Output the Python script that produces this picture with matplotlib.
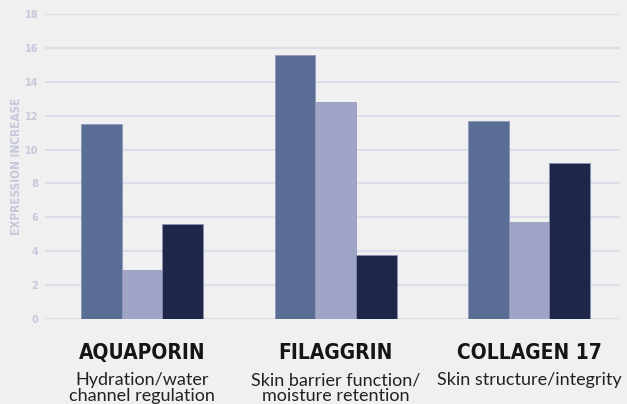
import matplotlib.pyplot as plt
import numpy as np

# Gene markers and the three bars drawn for each one
genes = ["AQUAPORIN", "FILAGGRIN", "COLLAGEN 17"]
roles = ["Hydration/water\nchannel regulation",
         "Skin barrier function/\nmoisture retention",
         "Skin structure/integrity"]
series_a = [11.5, 15.6, 11.7]
series_b = [2.9, 12.8, 5.7]
series_c = [5.6, 3.8, 9.2]
yticks = [0, 2, 4, 6, 8, 10, 12, 14, 16, 18]

colors = ["#5a6d94", "#a0a4c6", "#1e2748"]
bg = "#f0f0f0"

fig = plt.figure(figsize=(6.27, 4.04), dpi=100, facecolor=bg)
ax = fig.add_axes([0.072, 0.2104, 0.917, 0.7549], facecolor=bg)

x = np.arange(len(genes))
width = 0.21
for i, (vals, col) in enumerate(zip([series_a, series_b, series_c], colors)):
    ax.bar(x + (i - 1) * width, vals, width=width, color=col,
           edgecolor="#8a93b8", linewidth=0.5, zorder=3)

ax.set_ylim(0, 18)
ax.set_xlim(-0.5, 2.47)
ax.set_yticks(yticks)
ax.set_yticklabels([str(t) for t in yticks], color="#c6c8db",
                   fontsize=7, fontweight="bold")
ax.tick_params(axis="y", length=0, pad=5)
ax.set_xticks([])
ax.grid(axis="y", color="#dcdde9", linewidth=1.5, zorder=0)
for s in ax.spines.values():
    s.set_visible(False)

ax.set_ylabel("EXPRESSION INCREASE", color="#c6c8db", fontsize=8.5,
              fontweight="bold", fontstretch="condensed", family="DejaVu Sans")
ax.yaxis.set_label_coords(-0.038, 0.5)

# Category names and their descriptions below the axis
trans = ax.get_xaxis_transform()
for xi, g, r in zip(x, genes, roles):
    ax.text(xi, -0.112, g, transform=trans, ha="center", va="center",
            fontsize=15, fontweight="bold", fontstretch="condensed",
            color="#151515", family="DejaVu Sans")
    ax.text(xi, -0.175, r, transform=trans, ha="center", va="top",
            fontsize=13, color="#222222", linespacing=0.95,
            family=["Lato", "DejaVu Sans"])

plt.savefig("out.png", dpi=100, facecolor=bg)
